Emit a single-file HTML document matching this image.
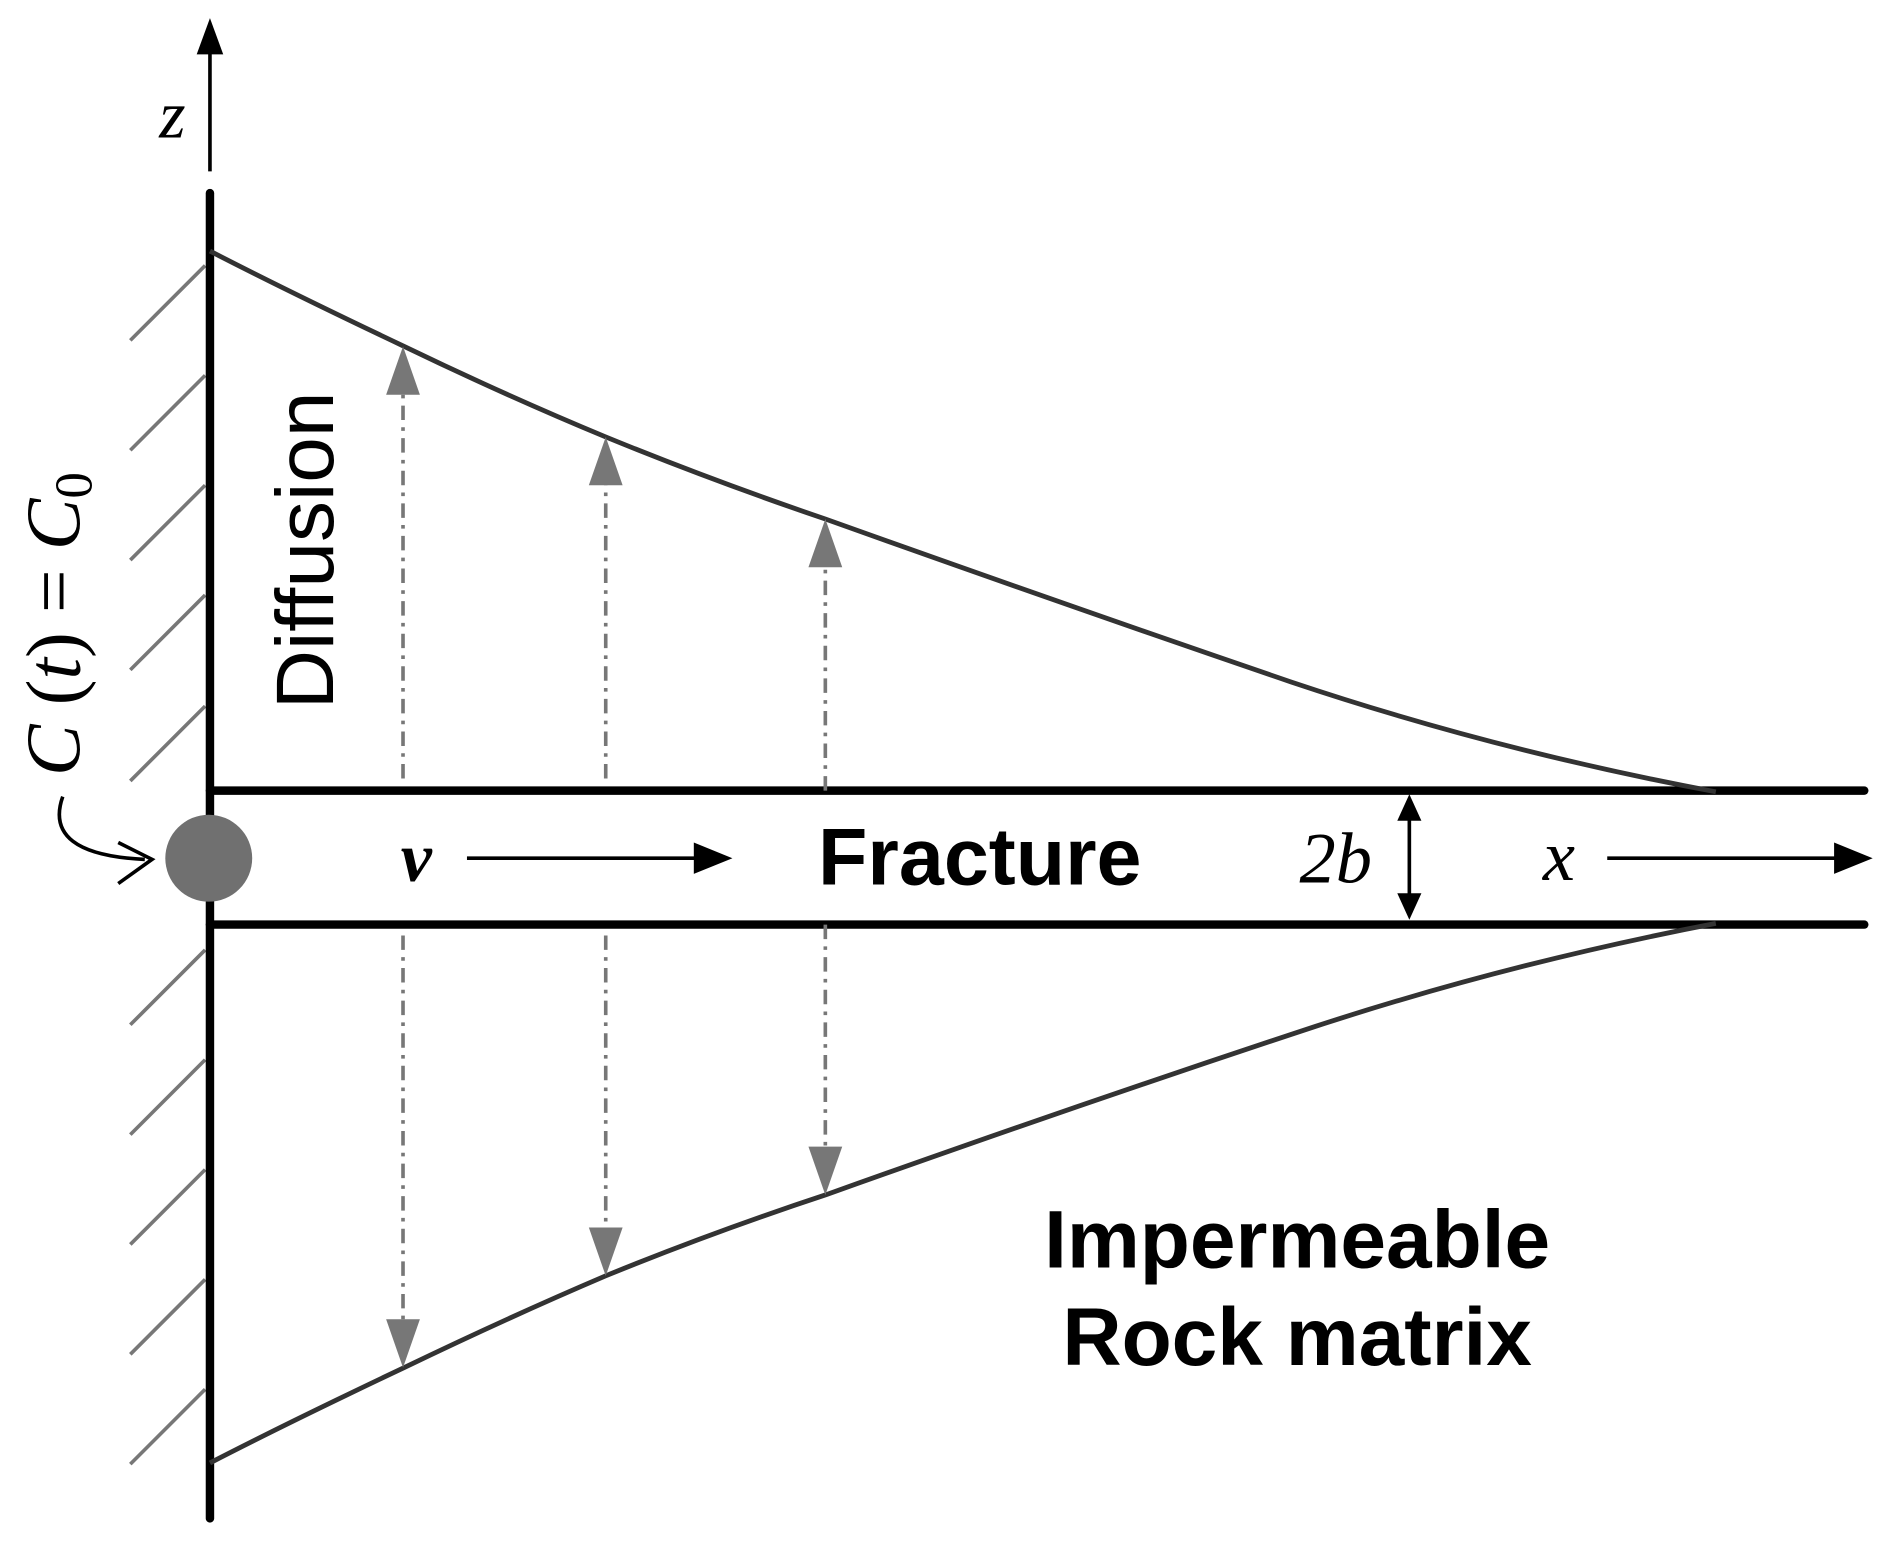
<!DOCTYPE html>
<html><head><meta charset="utf-8"><style>html,body{margin:0;padding:0;background:#fff;}svg{display:block}</style></head>
<body>
<svg width="1892" height="1545" viewBox="0 0 1568 1280" preserveAspectRatio="none" xmlns="http://www.w3.org/2000/svg">
<g stroke="#777" stroke-width="3">
<line x1="170" y1="220" x2="108" y2="282"/>
<line x1="170" y1="311" x2="108" y2="373"/>
<line x1="170" y1="402" x2="108" y2="464"/>
<line x1="170" y1="493" x2="108" y2="555"/>
<line x1="170" y1="585" x2="108" y2="647"/>
<line x1="170" y1="787" x2="108" y2="849"/>
<line x1="170" y1="878" x2="108" y2="940"/>
<line x1="170" y1="969" x2="108" y2="1031"/>
<line x1="170" y1="1060" x2="108" y2="1122"/>
<line x1="170" y1="1151" x2="108" y2="1213"/>
</g>
<line x1="174" y1="160" x2="174" y2="1258" stroke="#000" stroke-width="7" stroke-linecap="round"/>
<line x1="174" y1="655" x2="1545" y2="655" stroke="#000" stroke-width="7" stroke-linecap="round"/>
<line x1="174" y1="766" x2="1545" y2="766" stroke="#000" stroke-width="7" stroke-linecap="round"/>
<path d="M174,208 Q240,242 335,287 Q420,328 502,362 Q590,398 684,430 Q880,500 1070,565 Q1240,622 1422,656" fill="none" stroke="#333" stroke-width="4"/>
<path d="M174,1212 Q240,1178 335,1133 Q420,1092 502,1057 Q590,1021 684,990 Q880,920 1070,857 Q1240,800 1422,765" fill="none" stroke="#333" stroke-width="4"/>
<line x1="174" y1="142" x2="174" y2="30" stroke="#000" stroke-width="3"/>
<path d="M163,45 L174,15 L185,45 Z" fill="#000"/>
<text x="132" y="114" font-family="Liberation Serif,serif" font-style="italic" font-size="56">z</text>
<g stroke="#777" stroke-width="3" stroke-dasharray="12,6,3,6">
<line x1="334" y1="645" x2="334" y2="320"/>
<line x1="502" y1="645" x2="502" y2="395"/>
<line x1="684" y1="655" x2="684" y2="463"/>
<line x1="334" y1="775" x2="334" y2="1100"/>
<line x1="502" y1="775" x2="502" y2="1024"/>
<line x1="684" y1="766" x2="684" y2="957"/>
</g>
<g fill="#777">
<path d="M320,327 L334,287 L348,327 Z"/>
<path d="M488,402 L502,362 L516,402 Z"/>
<path d="M670,470 L684,430 L698,470 Z"/>
<path d="M320,1093 L334,1133 L348,1093 Z"/>
<path d="M488,1017 L502,1057 L516,1017 Z"/>
<path d="M670,950 L684,990 L698,950 Z"/>
</g>
<circle cx="173" cy="711" r="36" fill="#707070"/>
<path d="M52,660 Q35,708 120,712" fill="none" stroke="#000" stroke-width="3"/>
<path d="M98,698 L126,712 L98,732" fill="none" stroke="#000" stroke-width="3"/>
<text transform="translate(66,517) rotate(-90)" text-anchor="middle" font-family="Liberation Serif,serif" font-size="64"><tspan font-style="italic">C</tspan> (<tspan font-style="italic">t</tspan>) = <tspan font-style="italic">C</tspan><tspan font-size="44" dy="10">0</tspan></text>
<text transform="translate(276,456) rotate(-90)" text-anchor="middle" font-family="Liberation Sans,sans-serif" font-size="68">Diffusion</text>
<text x="345" y="730" text-anchor="middle" font-family="Liberation Serif,serif" font-style="italic" font-weight="bold" font-size="58">v</text>
<line x1="387" y1="711" x2="585" y2="711" stroke="#000" stroke-width="3"/>
<path d="M575,698 L607,711 L575,724 Z" fill="#000"/>
<text x="812" y="733" text-anchor="middle" font-family="Liberation Sans,sans-serif" font-weight="bold" font-size="67">Fracture</text>
<text x="1107" y="731" text-anchor="middle" font-family="Liberation Serif,serif" font-style="italic" font-size="60">2b</text>
<line x1="1168" y1="670" x2="1168" y2="750" stroke="#000" stroke-width="3"/>
<path d="M1158,680 L1168,658 L1178,680 Z" fill="#000"/>
<path d="M1158,740 L1168,762 L1178,740 Z" fill="#000"/>
<text x="1292" y="729" text-anchor="middle" font-family="Liberation Serif,serif" font-style="italic" font-size="60">x</text>
<line x1="1332" y1="711" x2="1530" y2="711" stroke="#000" stroke-width="3"/>
<path d="M1520,698 L1552,711 L1520,724 Z" fill="#000"/>
<text x="1075" y="1050" text-anchor="middle" font-family="Liberation Sans,sans-serif" font-weight="bold" font-size="68">Impermeable</text>
<text x="1075" y="1131" text-anchor="middle" font-family="Liberation Sans,sans-serif" font-weight="bold" font-size="68">Rock matrix</text>
</svg>
</body></html>
